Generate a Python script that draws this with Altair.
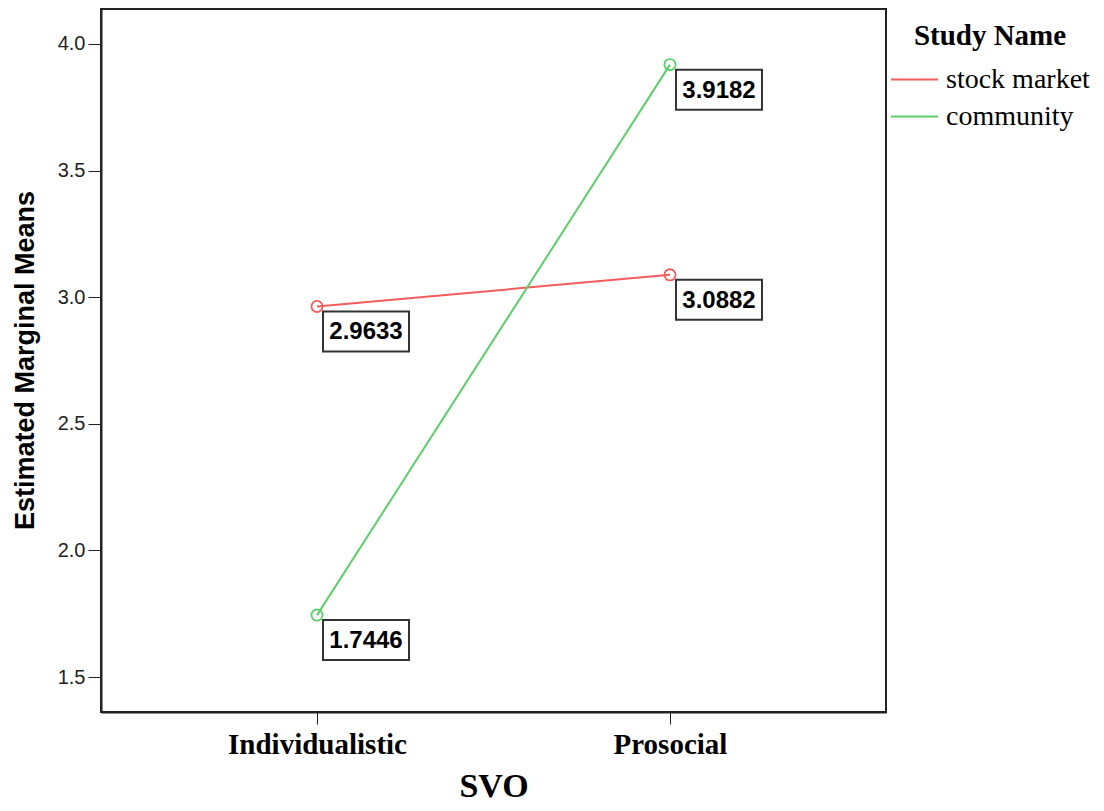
import altair as alt
import pandas as pd

# ---- data ----
svo = ["Individualistic", "Prosocial"]
studies = ["stock market", "community"]
stock_market = [2.9633, 3.0882]
community = [1.7446, 3.9182]
y_ticks = [1.5, 2.0, 2.5, 3.0, 3.5, 4.0]
colors = ["#f25c5c", "#5ccf6a"]

rows = []
for study, vals in zip(studies, [stock_market, community]):
    for s, v in zip(svo, vals):
        rows.append({"SVO": s, "Study": study, "Mean": v, "Label": f"{v:.4f}"})
df = pd.DataFrame(rows)

serif = "Liberation Serif"
sans = "Liberation Sans"

x = alt.X(
    "SVO:N",
    sort=svo,
    scale=alt.Scale(type="point", padding=0.612),
    axis=alt.Axis(
        title="SVO",
        labelAngle=0,
        labelFont=serif,
        labelFontSize=29,
        labelFontWeight="bold",
        labelColor="black",
        labelPadding=6,
        tickSize=12,
        tickColor="#222",
        domainColor="#222",
        domainWidth=2,
        titleFont=serif,
        titleFontSize=34,
        titleFontWeight="bold",
        titleColor="black",
        titleBaseline="alphabetic",
        titleY=84,
    ),
)
y = alt.Y(
    "Mean:Q",
    scale=alt.Scale(domain=[1.362, 4.138], nice=False, zero=False),
    axis=alt.Axis(
        title="Estimated Marginal Means",
        values=y_ticks,
        format=".1f",
        grid=False,
        labelFont=sans,
        labelFontSize=20,
        labelColor="#222",
        labelPadding=3,
        tickSize=13,
        tickColor="#222",
        domainColor="#222",
        domainWidth=2,
        titleFont=sans,
        titleFontSize=27,
        titleFontWeight="bold",
        titleColor="black",
        titleAngle=270,
        titleAlign="center",
        titleBaseline="middle",
        titleX=-76,
        titleY=351,
    ),
)
legend = alt.Legend(
    title="Study Name",
    orient="none",
    legendX=789,
    legendY=13,
    padding=0,
    titleFont=serif,
    titleFontSize=29,
    titleFontWeight="bold",
    titleColor="black",
    titleAnchor="middle",
    titleAlign="center",
    titlePadding=15,
    labelFont=serif,
    labelFontSize=28,
    labelColor="black",
    labelOffset=7,
    rowPadding=8,
    clipHeight=27,
    symbolType="stroke",
    symbolSize=2209,
    symbolStrokeWidth=2,
)
color = alt.Color(
    "Study:N",
    sort=studies,
    scale=alt.Scale(domain=studies, range=colors),
    legend=legend,
)

base = alt.Chart(df)

lines = base.mark_line(strokeWidth=2).encode(x=x, y=y, color=color, detail="Study:N")
pts = base.mark_point(filled=False, size=125, strokeWidth=1.8, opacity=1).encode(
    x=x, y=y, color=color
)
box_path = "M-1,-0.465H1V0.465H-1Z"
boxes = base.mark_point(
    shape=box_path,
    size=7396,
    filled=True,
    fill="white",
    stroke="#333",
    strokeWidth=2,
    opacity=1,
    xOffset=49,
    yOffset=25,
).encode(x=x, y=y)
labels = base.mark_text(
    font=sans,
    fontSize=24,
    fontWeight="bold",
    color="black",
    align="center",
    baseline="middle",
    dx=49,
    dy=26,
).encode(x=x, y=y, text="Label:N")

chart = (
    alt.layer(lines, pts, boxes, labels)
    .properties(
        width=785,
        height=703,
        background="white",
        autosize=alt.AutoSizeParams(type="none"),
        padding={"left": 93, "top": 1, "right": 210, "bottom": 91},
    )
    .configure_view(stroke="#222", strokeWidth=2)
)

chart.save("out.html", embed_options={"renderer": "svg", "actions": False})
